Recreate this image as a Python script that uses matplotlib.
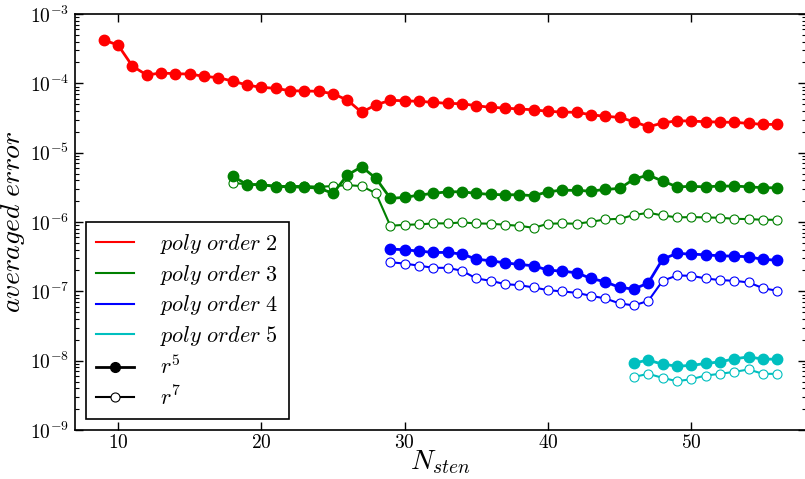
import numpy as np
import matplotlib
matplotlib.use("Agg")
import matplotlib.pyplot as plt
from matplotlib.lines import Line2D
from matplotlib.ticker import FixedLocator, FuncFormatter, NullFormatter

plt.rcParams['mathtext.fontset'] = 'cm'
plt.rcParams['font.family'] = 'serif'
plt.rcParams['font.serif'] = ['cmr10', 'DejaVu Serif']
plt.rcParams['axes.formatter.use_mathtext'] = True

# ---- data (log10 of averaged error) ----
n_p2 = list(range(9, 57))
p2_r5 = [-3.375, -3.447, -3.750, -3.880, -3.851, -3.861, -3.866, -3.899, -3.919, -3.967,
         -4.025, -4.058, -4.072, -4.107, -4.110, -4.115, -4.150, -4.241, -4.418, -4.309,
         -4.245, -4.251, -4.260, -4.274, -4.289, -4.294, -4.323, -4.346, -4.356, -4.371,
         -4.381, -4.404, -4.414, -4.418, -4.453, -4.476, -4.491, -4.554, -4.626, -4.573,
         -4.539, -4.544, -4.554, -4.558, -4.563, -4.577, -4.592, -4.592]

n_p3 = list(range(18, 57))
p3_r5 = [-5.338, -5.46, -5.46, -5.49, -5.49, -5.50, -5.51, -5.587, -5.323, -5.203,
         -5.371, -5.659, -5.645, -5.612, -5.587, -5.564, -5.564, -5.587, -5.602, -5.607,
         -5.607, -5.621, -5.564, -5.540, -5.545, -5.554, -5.530, -5.516, -5.381, -5.323,
         -5.410, -5.492, -5.487, -5.492, -5.482, -5.482, -5.492, -5.506, -5.506]
p3_r7 = [-5.434, -5.458, -5.458, -5.482, -5.482, -5.482, -5.492, -5.482, -5.468, -5.482,
         -5.587, -6.055, -6.040, -6.035, -6.020, -6.020, -6.006, -6.020, -6.025, -6.040,
         -6.055, -6.084, -6.025, -6.020, -6.025, -5.997, -5.963, -5.954, -5.900, -5.867,
         -5.905, -5.934, -5.929, -5.934, -5.939, -5.954, -5.958, -5.968, -5.968]

n_p4 = list(range(29, 57))
p4_r5 = [-6.39, -6.40, -6.42, -6.439, -6.439, -6.463, -6.535, -6.560, -6.589, -6.612,
         -6.632, -6.694, -6.709, -6.733, -6.814, -6.863, -6.944, -6.968, -6.877, -6.535,
         -6.453, -6.463, -6.473, -6.488, -6.492, -6.502, -6.540, -6.550]
p4_r7 = [-6.58, -6.60, -6.63, -6.661, -6.661, -6.704, -6.814, -6.848, -6.896, -6.911,
         -6.944, -6.983, -7.001, -7.022, -7.065, -7.103, -7.175, -7.203, -7.137, -6.848,
         -6.771, -6.776, -6.814, -6.838, -6.848, -6.872, -6.954, -6.993]

n_p5 = list(range(46, 57))
p5_r5 = [-8.032, -7.993, -8.051, -8.079, -8.069, -8.040, -8.017, -7.974, -7.945, -7.978, -7.978]
p5_r7 = [-8.234, -8.190, -8.248, -8.296, -8.267, -8.214, -8.190, -8.161, -8.127, -8.190, -8.190]

x_ticks = [10, 20, 30, 40, 50]
y_exps = [-9, -8, -7, -6, -5, -4, -3]
labels = ['$poly\\ order\\ 2$', '$poly\\ order\\ 3$', '$poly\\ order\\ 4$', '$poly\\ order\\ 5$']
colors = ['#ff0000', '#008000', '#0000ff', '#00bfbf']

fig = plt.figure(figsize=(8.05, 4.79), dpi=100)
ax = fig.add_axes([75/805, 1-430/479, 731/805, 416/479])

def p(v):
    return 10.0 ** np.array(v)

series = [(n_p2, p2_r5, None), (n_p3, p3_r5, p3_r7), (n_p4, p4_r5, p4_r7), (n_p5, p5_r5, p5_r7)]
for (n, r5, r7), c in zip(series, colors):
    if r7 is not None:
        ax.plot(n, p(r7), '-', color=c, lw=1.5, marker='o', ms=6.5,
                mfc='white', mec=c, mew=0.8, zorder=2)
    ax.plot(n, p(r5), '-', color=c, lw=2.0, marker='o', ms=7.5, mfc=c, mec=c, zorder=3)

ax.set_yscale('log')
ax.set_xlim(7, 58)
ax.set_ylim(1e-9, 1e-3)
ax.xaxis.set_major_locator(FixedLocator(x_ticks))
ax.xaxis.set_major_formatter(FuncFormatter(lambda v, pos: '$%d$' % v))
ax.yaxis.set_major_locator(FixedLocator([10.0 ** e for e in y_exps]))
ax.yaxis.set_major_formatter(FuncFormatter(lambda v, pos: '$10^{%d}$' % int(round(np.log10(v)))))
minor = [m * 10.0 ** e for e in y_exps[:-1] for m in range(2, 10)]
ax.yaxis.set_minor_locator(FixedLocator(minor))
ax.yaxis.set_minor_formatter(NullFormatter())
ax.tick_params(which='both', direction='in', top=True, right=True)
ax.tick_params(which='major', length=6, width=1, labelsize=14)
ax.tick_params(axis='y', which='major', pad=4)
ax.tick_params(axis='x', which='major', pad=3)
ax.tick_params(which='minor', length=3, width=0.8)
for s in ax.spines.values():
    s.set_color('black')
    s.set_linewidth(1.2)

ax.set_xlabel('$N_{sten}$', fontsize=20, labelpad=-3)
ax.set_ylabel('$averaged\\ error$', fontsize=20, labelpad=2)

handles = [Line2D([], [], color=c, lw=1.5) for c in colors]
handles.append(Line2D([], [], color='black', lw=2, marker='o', ms=7, mfc='black', mec='black'))
handles.append(Line2D([], [], color='black', lw=1.5, marker='o', ms=6.5, mfc='white', mec='black', mew=0.8))
leg = ax.legend(handles, labels + ['$r^5$', '$r^7$'], loc='lower left', fontsize=16,
                frameon=True, fancybox=False, edgecolor='black', framealpha=1,
                borderaxespad=0.0, bbox_to_anchor=(11/731, 11/416),
                handlelength=1.7, labelspacing=0.3, borderpad=0.45, handletextpad=1.2)
leg.get_frame().set_linewidth(1.2)

fig.savefig('out.png', dpi=100)
